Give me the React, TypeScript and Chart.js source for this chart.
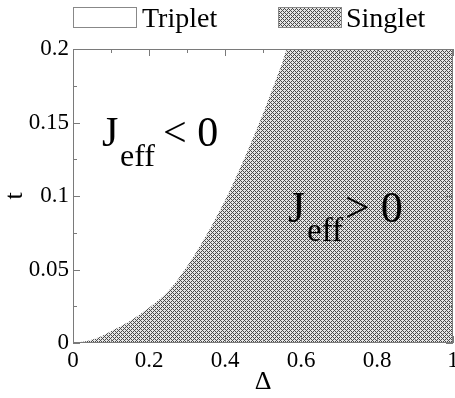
import React, { useEffect, useRef } from "react";
import { Chart, registerables } from "chart.js";

Chart.register(...registerables);

// Boundary curve t(Δ) between triplet (above-left) and singlet (below-right)
const deltaValues = [0, 0.03, 0.06, 0.1, 0.15, 0.2, 0.25, 0.3, 0.35, 0.4, 0.45, 0.5, 0.55, 0.565, 0.6, 0.7, 0.8, 0.9, 1.0];
const tValues = [0, 0.001, 0.003, 0.008, 0.015, 0.024, 0.035, 0.052, 0.073, 0.097, 0.125, 0.156, 0.19, 0.2, 0.2, 0.2, 0.2, 0.2, 0.2];

const xTickLabels = ["0", "0.2", "0.4", "0.6", "0.8", "1"];
const yTickLabels = ["0", "0.05", "0.1", "0.15", "0.2"];
const legendLabels = ["Triplet", "Singlet"];
const xTitle = "Δ";
const yTitle = "t";

const SERIF = '"Liberation Serif", "Times New Roman", serif';

function makePattern(): CanvasPattern | string {
  const c = document.createElement("canvas");
  c.width = 4;
  c.height = 4;
  const g = c.getContext("2d");
  if (!g) return "#999";
  g.fillStyle = "#e6e6e6";
  g.fillRect(0, 0, 4, 4);
  g.fillStyle = "#4a4a4a";
  for (let x = 0; x < 4; x++) {
    for (let y = 0; y < 4; y++) {
      if ((x + y) % 4 === 0 || (x - y + 4) % 4 === 0) g.fillRect(x, y, 1, 1);
    }
  }
  const p = g.createPattern(c, "repeat");
  return p || "#999";
}

export default function App() {
  const ref = useRef<HTMLCanvasElement | null>(null);

  useEffect(() => {
    const canvas = ref.current;
    if (!canvas) return;
    const pattern = makePattern();

    const decorPlugin = {
      id: "decor",
      afterDatasetsDraw(chart: any) {
        const ctx = chart.ctx;
        const a = chart.chartArea;
        const xs = chart.scales.x;
        const ys = chart.scales.y;
        ctx.save();
        ctx.strokeStyle = "#7a7a7a";
        ctx.lineWidth = 1;
        // frame
        ctx.strokeRect(a.left + 0.5, a.top + 0.5, a.right - a.left - 1, a.bottom - a.top - 1);
        // inward ticks
        ctx.beginPath();
        xs.ticks.forEach((t: any) => {
          const px = Math.round(xs.getPixelForValue(t.value)) + 0.5;
          const major = Math.round(t.value / 0.1) % 2 === 0;
          const len = major ? 7 : 4;
          ctx.moveTo(px, a.bottom);
          ctx.lineTo(px, a.bottom - len);
          ctx.moveTo(px, a.top);
          ctx.lineTo(px, a.top + len);
        });
        ys.ticks.forEach((t: any) => {
          const py = Math.round(ys.getPixelForValue(t.value)) + 0.5;
          const major = Math.round(t.value / 0.025) % 2 === 0;
          const len = major ? 7 : 4;
          ctx.moveTo(a.left, py);
          ctx.lineTo(a.left + len, py);
          ctx.moveTo(a.right, py);
          ctx.lineTo(a.right - len, py);
        });
        ctx.stroke();

        // annotations
        ctx.fillStyle = "#000";
        ctx.textBaseline = "alphabetic";
        ctx.textAlign = "left";
        ctx.font = `42px ${SERIF}`;
        ctx.fillText("J", 102, 146);
        ctx.fillText("< 0", 163, 146);
        ctx.font = `32px ${SERIF}`;
        ctx.fillText("eff", 120, 166);
        ctx.font = `44px ${SERIF}`;
        ctx.fillText("J", 288, 222);
        ctx.fillText("> 0", 345, 222);
        ctx.font = `33px ${SERIF}`;
        ctx.fillText("eff", 307, 241);

        // legend
        ctx.fillStyle = "#fff";
        ctx.fillRect(73, 7, 63, 20);
        ctx.strokeStyle = "#888";
        ctx.strokeRect(73.5, 7.5, 63, 20);
        ctx.fillStyle = pattern as any;
        ctx.fillRect(278, 7, 63, 20);
        ctx.strokeRect(278.5, 7.5, 63, 20);
        ctx.fillStyle = "#000";
        ctx.font = `28px ${SERIF}`;
        ctx.fillText(legendLabels[0], 142, 27);
        ctx.fillText(legendLabels[1], 346, 27);
        ctx.restore();
      },
    };

    const chart = new Chart(canvas, {
      type: "line",
      data: {
        datasets: [
          {
            label: legendLabels[1],
            data: deltaValues.map((d, i) => ({ x: d, y: tValues[i] })),
            fill: "start",
            backgroundColor: pattern as any,
            borderWidth: 0,
            pointRadius: 0,
            cubicInterpolationMode: "monotone",
          },
        ],
      },
      options: {
        animation: false,
        responsive: false,
        events: [],
        layout: { padding: { left: 0, right: 2, top: 49, bottom: 0 } },
        plugins: { legend: { display: false }, tooltip: { enabled: false } },
        scales: {
          x: {
            type: "linear",
            min: 0,
            max: 1,
            border: { display: false },
            grid: { display: false, drawTicks: false, tickLength: 0 },
            ticks: {
              stepSize: 0.1,
              maxRotation: 0,
              autoSkip: false,
              padding: 4,
              color: "#000",
              font: { family: SERIF, size: 23 },
              callback: (v: any) => {
                const k = Math.round(Number(v) / 0.1);
                return k % 2 === 0 ? xTickLabels[k / 2] : "";
              },
            },
            title: {
              display: true,
              text: xTitle,
              color: "#000",
              font: { family: SERIF, size: 26 },
              padding: { top: -6, bottom: 0 },
            },
            afterFit: (s: any) => {
              s.height = 55;
              s.paddingLeft = 0;
              s.paddingRight = 0;
            },
          },
          y: {
            type: "linear",
            min: 0,
            max: 0.2,
            border: { display: false },
            grid: { display: false, drawTicks: false, tickLength: 0 },
            ticks: {
              stepSize: 0.025,
              autoSkip: false,
              padding: 4,
              color: "#000",
              font: { family: SERIF, size: 23 },
              callback: (v: any) => {
                const k = Math.round(Number(v) / 0.025);
                return k % 2 === 0 ? yTickLabels[k / 2] : "";
              },
            },
            title: {
              display: true,
              text: yTitle,
              color: "#000",
              font: { family: SERIF, size: 26 },
              padding: { top: 0, bottom: 0 },
            },
            afterFit: (s: any) => {
              s.width = 73;
              s.paddingTop = 0;
              s.paddingBottom = 0;
            },
          },
        },
      },
      plugins: [decorPlugin],
    });
    return () => chart.destroy();
  }, []);

  return (
    <div style={{ position: "fixed", left: 0, top: 0, width: 455, height: 398, background: "#fff" }}>
      <canvas ref={ref} width={455} height={398} style={{ width: 455, height: 398 }} />
    </div>
  );
}
